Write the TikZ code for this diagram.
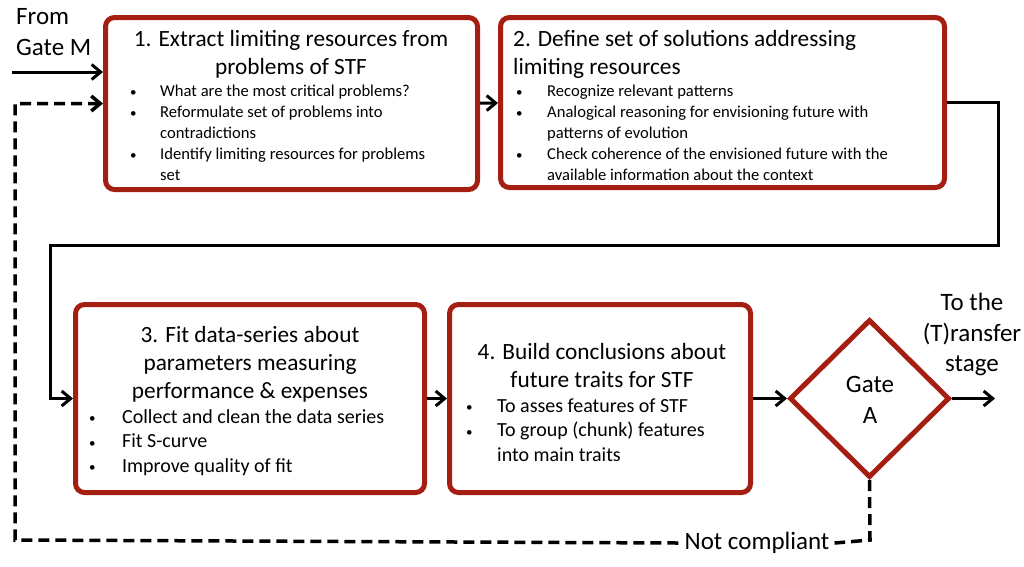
\documentclass[tikz,border=0pt]{standalone}
\usepackage{fontspec}
\setmainfont{Carlito}
\usetikzlibrary{arrows.meta,shapes.geometric}
\definecolor{boxred}{RGB}{164,30,18}
\newcommand{\bl}[1]{\makebox[#1][l]{\raisebox{0.5pt}{\fontsize{13}{13}\selectfont\textbullet}}}
\begin{document}
\begin{tikzpicture}[x=1pt,y=-1pt,
  stepbox/.style={draw=boxred,line width=5pt,rounded corners=9pt,fill=white,minimum width=#1,inner sep=0pt},
  gatebox/.style={diamond,draw=boxred,line width=5pt,fill=white,inner sep=0pt,minimum width=160pt,minimum height=158pt,aspect=1},
  ttl/.style={font=\fontsize{23.3}{28}\selectfont,inner sep=0pt},
  lbl/.style={font=\fontsize{25}{30.5}\selectfont,inner sep=0pt},
  smallb/.style={font=\fontsize{16.6}{21}\selectfont,inner sep=0pt,align=left,anchor=west},
  bigb/.style={font=\fontsize{20}{24.5}\selectfont,inner sep=0pt,align=left,anchor=west},
  arr/.style={line width=3pt,-{Straight Barb[length=9pt,width=15pt]}},
  dsh/.style={line width=3.5pt,dash pattern=on 11pt off 6pt}]
\useasboundingbox (0,0) rectangle (1024,566);
% boxes
\node[stepbox=372pt,minimum height=172pt] (b1) at (291.5,103.5) {};
\node[stepbox=444pt,minimum height=170pt] (b2) at (722.5,102.5) {};
\node[stepbox=349pt,minimum height=188pt] (b3) at (250,398.5) {};
\node[stepbox=301pt,minimum height=188pt] (b4) at (600,398.5) {};
\node[gatebox] (gate) at (869.5,398.5) {};
% box texts
\node[ttl,align=center] (t1) at (291,54) {1. Extract limiting resources from\\problems of STF};
\node[smallb] (l1) at (130,133) {\bl{30pt}What are the most critical problems?\\
\bl{30pt}Reformulate set of problems into\\\hspace*{30pt}contradictions\\
\bl{30pt}Identify limiting resources for problems\\\hspace*{30pt}set};
\node[ttl,align=left,anchor=west] (t2) at (513,54) {2. Define set of solutions addressing\\limiting resources};
\node[smallb] (l2) at (516,133) {\bl{31pt}Recognize relevant patterns\\
\bl{31pt}Analogical reasoning for envisioning future with\\\hspace*{31pt}patterns of evolution\\
\bl{31pt}Check coherence of the envisioned future with the\\\hspace*{31pt}available information about the context};
\node[ttl,align=center] (t3) at (250,364.5) {3. Fit data-series about\\parameters measuring\\performance \& expenses};
\node[bigb] (l3) at (89,442.5) {\bl{33pt}Collect and clean the data series\\
\bl{33pt}Fit S-curve\\
\bl{33pt}Improve quality of fit};
\node[ttl,align=center] (t4) at (602,365.5) {4. Build conclusions about\\future traits for STF};
\node[bigb] (l4) at (466,430) {\bl{31pt}To asses features of STF\\
\bl{31pt}To group (chunk) features\\\hspace*{31pt}into main traits};
\node[lbl,align=center] (ga) at (870,400) {Gate\\A};
% outside labels
\node[lbl,align=left,anchor=west] (from) at (16,32) {From\\Gate M};
\node[lbl,align=center] (to) at (972,334.5) {To the\\(T)ransfer\\stage};
\node[lbl] (nc) at (757,543) {Not compliant};
% coordinates
\coordinate (fm) at (12,72);
\coordinate (c1) at (998,245);
\coordinate (c2) at (50,245);
\coordinate (out) at (995,398.5);
\coordinate (dg) at (870,540);
\coordinate (dl) at (15,540);
% connectors
\draw[arr] (fm) -- (fm -| b1.west);
\draw[arr] (b1) -- (b2);
\draw[arr] (b2.east) -| (c1) -- (c2) |- (b3.west);
\draw[arr] (b3) -- (b4);
\draw[arr] (b4) -- (gate);
\draw[arr] (gate) -- (out);
\draw[dsh] (gate.south) -- (dg) -- ([xshift=5pt]nc.east);
\draw[dsh,-{Straight Barb[length=9pt,width=15pt]}] ([xshift=-6pt]nc.west) -- (dl) |- (b1.west);
\end{tikzpicture}
\end{document}
